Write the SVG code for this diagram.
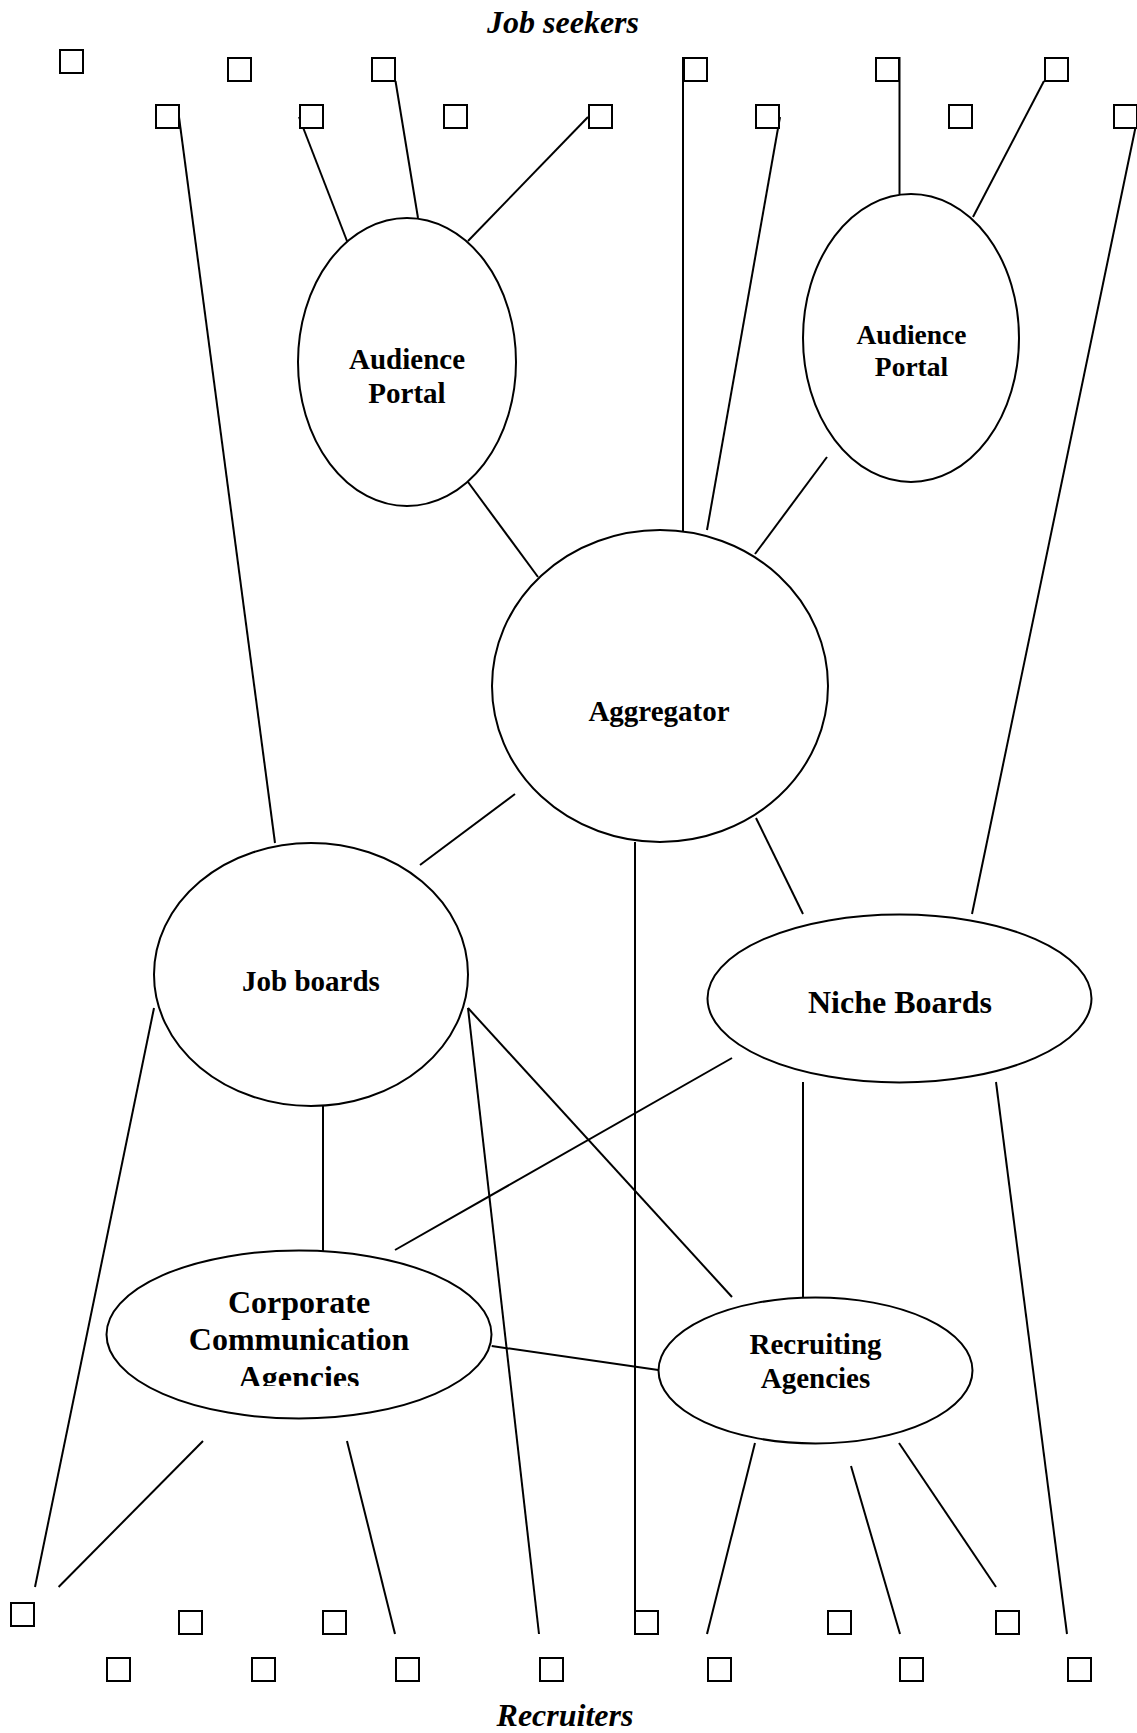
<svg xmlns="http://www.w3.org/2000/svg" width="1137" height="1733" viewBox="0 0 1137 1733">
<style>
.sq{fill:#fff;stroke:#000;stroke-width:2}
.nd{fill:#fff;stroke:#000;stroke-width:2}
.ln{stroke:#000;stroke-width:2;fill:none}
.t{font-family:"Liberation Serif","Times New Roman",serif;font-weight:bold;text-anchor:middle;fill:#000}
.ti{font-family:"Liberation Serif","Times New Roman",serif;font-weight:bold;font-style:italic;text-anchor:middle;fill:#000;font-size:32px}
</style>
<defs>
<clipPath id="ccaClip"><rect x="90" y="1240" width="420" height="146"/></clipPath>
</defs>
<rect width="1137" height="1733" fill="#fff"/>
<text class="ti" x="563" y="33">Job seekers</text>
<text class="ti" x="565" y="1726">Recruiters</text>

<g id="connectors">
<line class="ln" x1="179" y1="117" x2="275" y2="843"/>
<line class="ln" x1="299" y1="117" x2="347" y2="241"/>
<line class="ln" x1="395.5" y1="81" x2="418" y2="218"/>
<line class="ln" x1="588" y1="117" x2="468" y2="241"/>
<line class="ln" x1="468" y1="482" x2="538" y2="577"/>
<line class="ln" x1="683" y1="57" x2="683" y2="531"/>
<line class="ln" x1="780" y1="117" x2="707" y2="530"/>
<line class="ln" x1="899.5" y1="57" x2="899.5" y2="194"/>
<line class="ln" x1="1044" y1="81" x2="973" y2="217"/>
<line class="ln" x1="827" y1="457" x2="755" y2="554"/>
<line class="ln" x1="1136" y1="125" x2="972" y2="914"/>
<line class="ln" x1="515" y1="794" x2="420" y2="865"/>
<line class="ln" x1="635" y1="842" x2="635" y2="1610"/>
<line class="ln" x1="756" y1="818" x2="803" y2="914"/>
<line class="ln" x1="154" y1="1008" x2="35" y2="1587"/>
<line class="ln" x1="468" y1="1008" x2="539" y2="1634"/>
<line class="ln" x1="468" y1="1008" x2="732" y2="1297"/>
<line class="ln" x1="323" y1="1106" x2="323" y2="1251"/>
<line class="ln" x1="732" y1="1058" x2="395" y2="1250"/>
<line class="ln" x1="803" y1="1082" x2="803" y2="1297"/>
<line class="ln" x1="996" y1="1082" x2="1067" y2="1634"/>
<line class="ln" x1="491.7" y1="1346" x2="658.3" y2="1370"/>
<line class="ln" x1="203" y1="1441" x2="58.6" y2="1587"/>
<line class="ln" x1="347" y1="1441" x2="395" y2="1634"/>
<line class="ln" x1="755" y1="1443" x2="707" y2="1634"/>
<line class="ln" x1="851" y1="1466" x2="900" y2="1634"/>
<line class="ln" x1="899" y1="1443" x2="996" y2="1587"/>
</g>

<g id="job-seekers">
<rect class="sq" x="60" y="50" width="23" height="23"/>
<rect class="sq" x="228" y="58" width="23" height="23"/>
<rect class="sq" x="372" y="58" width="23" height="23"/>
<rect class="sq" x="684" y="58" width="23" height="23"/>
<rect class="sq" x="876" y="58" width="23" height="23"/>
<rect class="sq" x="1045" y="58" width="23" height="23"/>
<rect class="sq" x="156" y="105" width="23" height="23"/>
<rect class="sq" x="300" y="105" width="23" height="23"/>
<rect class="sq" x="444" y="105" width="23" height="23"/>
<rect class="sq" x="589" y="105" width="23" height="23"/>
<rect class="sq" x="756" y="105" width="23" height="23"/>
<rect class="sq" x="949" y="105" width="23" height="23"/>
<rect class="sq" x="1114" y="105" width="23" height="23"/>
</g>

<g id="recruiters">
<rect class="sq" x="11" y="1603" width="23" height="23"/>
<rect class="sq" x="179" y="1611" width="23" height="23"/>
<rect class="sq" x="323" y="1611" width="23" height="23"/>
<rect class="sq" x="635" y="1611" width="23" height="23"/>
<rect class="sq" x="828" y="1611" width="23" height="23"/>
<rect class="sq" x="996" y="1611" width="23" height="23"/>
<rect class="sq" x="107" y="1658" width="23" height="23"/>
<rect class="sq" x="252" y="1658" width="23" height="23"/>
<rect class="sq" x="396" y="1658" width="23" height="23"/>
<rect class="sq" x="540" y="1658" width="23" height="23"/>
<rect class="sq" x="708" y="1658" width="23" height="23"/>
<rect class="sq" x="900" y="1658" width="23" height="23"/>
<rect class="sq" x="1068" y="1658" width="23" height="23"/>
</g>

<g id="audience-portal-1">
<ellipse class="nd" cx="407" cy="362" rx="109" ry="144"/>
<text class="t" x="407" y="369" font-size="29">Audience</text>
<text class="t" x="407" y="403" font-size="29">Portal</text>
</g>

<g id="audience-portal-2">
<ellipse class="nd" cx="911" cy="338" rx="108" ry="144"/>
<text class="t" x="911.5" y="344" font-size="27.5">Audience</text>
<text class="t" x="911.5" y="376" font-size="27.5">Portal</text>
</g>

<g id="aggregator">
<ellipse class="nd" cx="660" cy="686" rx="168" ry="156"/>
<text class="t" x="659" y="721" font-size="29">Aggregator</text>
</g>

<g id="job-boards">
<ellipse class="nd" cx="311" cy="974.5" rx="157" ry="131.5"/>
<text class="t" x="311" y="991" font-size="29">Job boards</text>
</g>

<g id="niche-boards">
<ellipse class="nd" cx="899.5" cy="998.5" rx="192" ry="84"/>
<text class="t" x="900" y="1013" font-size="32">Niche Boards</text>
</g>

<g id="corporate-communication-agencies">
<ellipse class="nd" cx="299" cy="1334.5" rx="192.5" ry="84"/>
<g clip-path="url(#ccaClip)">
<text class="t" x="299" y="1313" font-size="32">Corporate</text>
<text class="t" x="299" y="1350" font-size="32">Communication</text>
<text class="t" x="299" y="1388" font-size="32">Agencies</text>
</g>
</g>

<g id="recruiting-agencies">
<ellipse class="nd" cx="815.5" cy="1370.5" rx="157" ry="73"/>
<text class="t" x="815.5" y="1354" font-size="29">Recruiting</text>
<text class="t" x="815.5" y="1388" font-size="29">Agencies</text>
</g>
</svg>
